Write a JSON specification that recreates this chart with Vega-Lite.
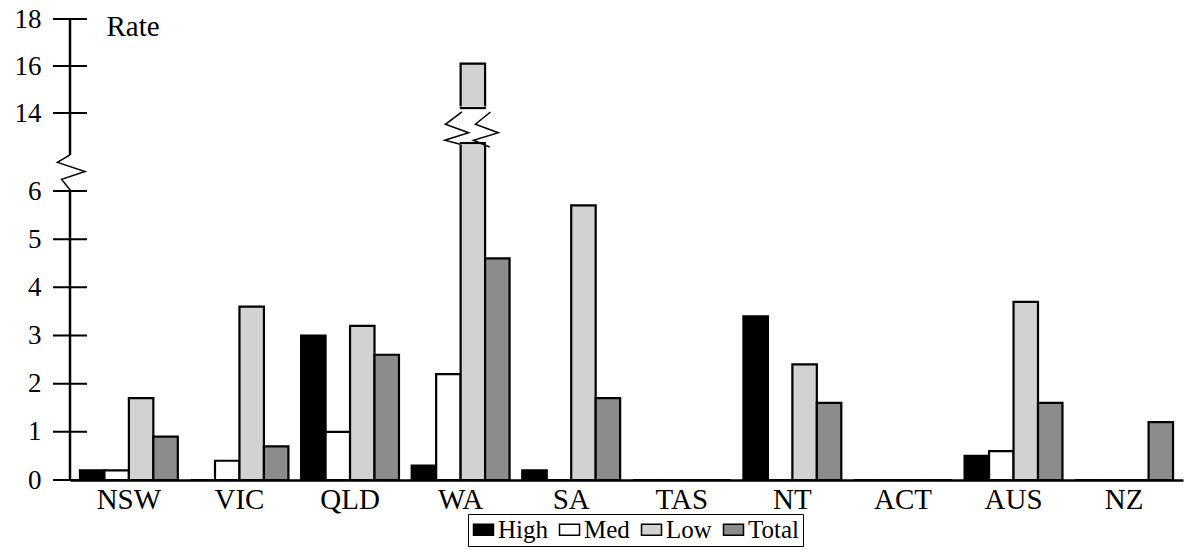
{
  "$schema": "https://vega.github.io/schema/vega-lite/v6.json",
  "width": 1113,
  "height": 461,
  "autosize": {"type": "none"},
  "padding": {"left": 70, "top": 19, "right": 3, "bottom": 70},
  "background": "white",
  "config": {"view": {"stroke": null}, "font": "Liberation Serif"},
  "datasets": {
    "rates": [
      {"state": "NSW", "level": "High", "value": 0.2},
      {"state": "NSW", "level": "Med", "value": 0.2},
      {"state": "NSW", "level": "Low", "value": 1.7},
      {"state": "NSW", "level": "Total", "value": 0.9},
      {"state": "VIC", "level": "High", "value": 0},
      {"state": "VIC", "level": "Med", "value": 0.4},
      {"state": "VIC", "level": "Low", "value": 3.6},
      {"state": "VIC", "level": "Total", "value": 0.7},
      {"state": "QLD", "level": "High", "value": 3.0},
      {"state": "QLD", "level": "Med", "value": 1.0},
      {"state": "QLD", "level": "Low", "value": 3.2},
      {"state": "QLD", "level": "Total", "value": 2.6},
      {"state": "WA", "level": "High", "value": 0.3},
      {"state": "WA", "level": "Med", "value": 2.2},
      {"state": "WA", "level": "Low", "value": 16.1},
      {"state": "WA", "level": "Total", "value": 4.6},
      {"state": "SA", "level": "High", "value": 0.2},
      {"state": "SA", "level": "Med", "value": 0},
      {"state": "SA", "level": "Low", "value": 5.7},
      {"state": "SA", "level": "Total", "value": 1.7},
      {"state": "TAS", "level": "High", "value": 0},
      {"state": "TAS", "level": "Med", "value": 0},
      {"state": "TAS", "level": "Low", "value": 0},
      {"state": "TAS", "level": "Total", "value": 0},
      {"state": "NT", "level": "High", "value": 3.4},
      {"state": "NT", "level": "Med", "value": 0},
      {"state": "NT", "level": "Low", "value": 2.4},
      {"state": "NT", "level": "Total", "value": 1.6},
      {"state": "ACT", "level": "High", "value": 0},
      {"state": "ACT", "level": "Med", "value": 0},
      {"state": "ACT", "level": "Low", "value": 0},
      {"state": "ACT", "level": "Total", "value": 0},
      {"state": "AUS", "level": "High", "value": 0.5},
      {"state": "AUS", "level": "Med", "value": 0.6},
      {"state": "AUS", "level": "Low", "value": 3.7},
      {"state": "AUS", "level": "Total", "value": 1.6},
      {"state": "NZ", "level": "High", "value": 0},
      {"state": "NZ", "level": "Med", "value": 0},
      {"state": "NZ", "level": "Low", "value": 0},
      {"state": "NZ", "level": "Total", "value": 1.2}
    ],
    "yticks": [{"v": 0}, {"v": 1}, {"v": 2}, {"v": 3}, {"v": 4}, {"v": 5}, {"v": 6}, {"v": 14}, {"v": 16}, {"v": 18}],
    "axisline": [{"from": 0, "to": 6}, {"from": 9.69, "to": 18}],
    "axisbreak": [{"at": 7.85}],
    "barbreak": [{"state": "WA", "level": "Low", "lo": 10.92, "hi": 14.21, "mid": 12.67}],
    "barbreakedges": [{"state": "WA", "level": "Low", "edge": 10.92}, {"state": "WA", "level": "Low", "edge": 14.21}]
  },
  "layer": [
    {
      "data": {"name": "rates"},
      "mark": {"type": "bar", "stroke": "black", "strokeWidth": 2.2},
      "encoding": {
        "x": {
          "field": "state", "type": "nominal", "sort": null,
          "scale": {"domain": ["NSW", "VIC", "QLD", "WA", "SA", "TAS", "NT", "ACT", "AUS", "NZ"], "paddingInner": 0.115, "paddingOuter": 0.09},
          "axis": {"title": null, "labelAngle": 0, "labelFont": "Liberation Serif", "labelFontSize": 29, "labelColor": "black", "labelPadding": 5, "ticks": false, "domainColor": "black", "domainWidth": 2.5}
        },
        "xOffset": {"field": "level", "type": "nominal", "sort": null, "scale": {"domain": ["High", "Med", "Low", "Total"], "paddingInner": 0, "paddingOuter": 0}},
        "y": {
          "field": "value", "type": "quantitative",
          "scale": {"type": "linear", "domain": [0, 6, 14, 18], "range": [461, 172, 94, 0], "nice": false, "zero": false},
          "axis": {
            "title": "Rate", "titleAngle": 0, "titleX": 36, "titleY": 16, "titleAlign": "left", "titleBaseline": "alphabetic",
            "titleFont": "Liberation Serif", "titleFontSize": 29, "titleFontWeight": "normal", "titleColor": "black",
            "values": [0, 1, 2, 3, 4, 5, 6, 14, 16, 18], "domain": false, "ticks": false, "grid": false,
            "labelFont": "Liberation Serif", "labelFontSize": 27, "labelColor": "black", "labelPadding": 29,
            "labelOverlap": false, "labelFlush": false, "labelBound": false
          }
        },
        "color": {
          "field": "level", "type": "nominal",
          "scale": {"domain": ["High", "Med", "Low", "Total"], "range": ["#000000", "#ffffff", "#d2d2d2", "#8c8c8c"]},
          "legend": {
            "title": null, "orient": "none", "legendX": 398, "legendY": 495, "direction": "horizontal",
            "labelFont": "Liberation Serif", "labelFontSize": 25, "labelColor": "black", "labelOffset": 2,
            "symbolType": "M-1,-0.55H1V0.55H-1Z", "symbolSize": 400, "symbolStrokeColor": "black", "symbolStrokeWidth": 1.5,
            "strokeColor": "black", "fillColor": "white", "padding": 3, "columnPadding": 8
          }
        }
      }
    },
    {
      "data": {"name": "barbreak"},
      "mark": {"type": "bar", "fill": "white", "stroke": "white", "strokeWidth": 3},
      "encoding": {
        "x": {"field": "state", "type": "nominal", "sort": null, "scale": {"domain": ["NSW", "VIC", "QLD", "WA", "SA", "TAS", "NT", "ACT", "AUS", "NZ"]}},
        "xOffset": {"field": "level", "type": "nominal", "sort": null, "scale": {"domain": ["High", "Med", "Low", "Total"]}},
        "y": {"field": "lo", "type": "quantitative", "scale": {"type": "linear", "domain": [0, 6, 14, 18], "range": [461, 172, 94, 0], "nice": false, "zero": false}},
        "y2": {"field": "hi"}
      }
    },
    {
      "data": {"name": "barbreakedges"},
      "mark": {"type": "tick", "orient": "horizontal", "color": "black", "thickness": 2.2, "size": 26, "opacity": 1},
      "encoding": {
        "x": {"field": "state", "type": "nominal", "sort": null, "scale": {"domain": ["NSW", "VIC", "QLD", "WA", "SA", "TAS", "NT", "ACT", "AUS", "NZ"]}},
        "xOffset": {"field": "level", "type": "nominal", "sort": null, "scale": {"domain": ["High", "Med", "Low", "Total"]}},
        "y": {"field": "edge", "type": "quantitative", "scale": {"type": "linear", "domain": [0, 6, 14, 18], "range": [461, 172, 94, 0], "nice": false, "zero": false}}
      }
    },
    {
      "data": {"name": "barbreak"},
      "mark": {
        "type": "point", "filled": false, "stroke": "black", "strokeWidth": 1.5, "opacity": 1, "size": 3136,
        "shape": "M-0.39,-0.5L-0.98,-0.06L-0.15,0.24L-1,0.51L-0.45,0.65M0.63,-0.5L0.09,-0.06L0.91,0.24L0.02,0.51L0.6,0.75"
      },
      "encoding": {
        "x": {"field": "state", "type": "nominal", "sort": null, "scale": {"domain": ["NSW", "VIC", "QLD", "WA", "SA", "TAS", "NT", "ACT", "AUS", "NZ"]}},
        "xOffset": {"field": "level", "type": "nominal", "sort": null, "scale": {"domain": ["High", "Med", "Low", "Total"]}},
        "y": {"field": "mid", "type": "quantitative", "scale": {"type": "linear", "domain": [0, 6, 14, 18], "range": [461, 172, 94, 0], "nice": false, "zero": false}}
      }
    },
    {
      "data": {"name": "axisline"},
      "mark": {"type": "rule", "color": "black", "strokeWidth": 2.5},
      "encoding": {
        "x": {"value": 0},
        "y": {"field": "from", "type": "quantitative", "scale": {"type": "linear", "domain": [0, 6, 14, 18], "range": [461, 172, 94, 0], "nice": false, "zero": false}},
        "y2": {"field": "to"}
      }
    },
    {
      "data": {"name": "yticks"},
      "mark": {"type": "tick", "orient": "horizontal", "color": "black", "thickness": 2, "size": 34, "opacity": 1},
      "encoding": {
        "x": {"value": 0},
        "y": {"field": "v", "type": "quantitative", "scale": {"type": "linear", "domain": [0, 6, 14, 18], "range": [461, 172, 94, 0], "nice": false, "zero": false}}
      }
    },
    {
      "data": {"name": "axisbreak"},
      "mark": {
        "type": "point", "filled": false, "stroke": "black", "strokeWidth": 1.5, "opacity": 1, "size": 1600,
        "shape": "M0,-0.9L-0.63,-0.53L0.75,-0.07L-0.42,0.32L0.05,0.9"
      },
      "encoding": {
        "x": {"value": 0},
        "y": {"field": "at", "type": "quantitative", "scale": {"type": "linear", "domain": [0, 6, 14, 18], "range": [461, 172, 94, 0], "nice": false, "zero": false}}
      }
    }
  ]
}
